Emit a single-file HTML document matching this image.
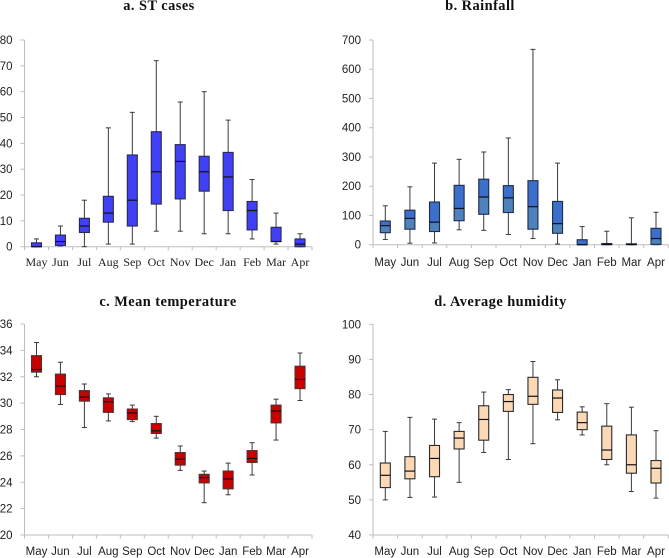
<!DOCTYPE html>
<html>
<head>
<meta charset="utf-8">
<style>
html,body{margin:0;padding:0;background:#fff;width:669px;height:558px;overflow:hidden}
svg{display:block;filter:blur(0.3px)}
</style>
</head>
<body>
<svg id="chart" width="669" height="558" viewBox="0 0 669 558" xmlns="http://www.w3.org/2000/svg"></svg>
<script>
const months = ["May","Jun","Jul","Aug","Sep","Oct","Nov","Dec","Jan","Feb","Mar","Apr"];

const stTicks = [0,10,20,30,40,50,60,70,80];
const stLow = [0,0.3,0,1,1,6,6,5,5,3,1,0];
const stQ1 = [0,0.5,5.5,9.5,8,16.5,18.5,21.5,14,6.5,2,0];
const stMedian = [0,2,8,13,18,29,33,29,27,14,2,1];
const stQ3 = [1.5,4.5,11,19.5,35.5,44.5,39.5,35,36.5,17.5,7.5,3];
const stHigh = [3,8,18,46,52,72,56,60,49,26,13,5];

const rainTicks = [0,100,200,300,400,500,600,700];
const rainLow = [18,5,6,51,49,35,21,2,0,0,0,0];
const rainQ1 = [41,53,45,82,104,110,53,39,0,0,0,1];
const rainMedian = [65,90,77,124,163,160,130,72,0,1,1,21];
const rainQ3 = [81,118,146,203,224,202,219,148,17,4,3,56];
const rainHigh = [133,198,279,292,317,365,668,279,62,46,92,111];

const tempTicks = [20,22,24,26,28,30,32,34,36];
const tempLow = [32,29.9,28.15,28.65,28.6,27.35,24.9,22.45,23.05,24.55,27.2,30.2];
const tempQ1 = [32.35,30.65,30.15,29.3,28.75,27.7,25.3,23.95,23.5,25.5,28.5,31.1];
const tempMedian = [32.55,31.3,30.45,30.1,29.25,27.9,25.75,24.35,24.25,25.8,29.4,31.8];
const tempQ3 = [33.6,32.2,30.95,30.4,29.55,28.45,26.25,24.6,24.85,26.4,29.85,32.8];
const tempHigh = [34.6,33.1,31.45,30.7,29.85,29,26.75,24.85,25.45,27,30.3,33.8];

const humTicks = [40,50,60,70,80,90,100];
const humLow = [50,50.7,50.8,55,63.5,61.5,66,72.8,68.5,60,52.4,50.5];
const humQ1 = [53.5,56,56.6,64.5,67,75.2,77.2,74.9,70,61.5,57.6,54.8];
const humMedian = [57,58.2,61.8,67.6,72.9,78,79.5,79,72,64.2,60,59];
const humQ3 = [60.5,62.3,65.5,69.5,76.8,80,84.9,81.3,75,71,68.5,61.2];
const humHigh = [69.5,73.5,73,72,80.7,81.4,89.4,84.2,76.5,77.4,76.4,69.7];

const NS = "http://www.w3.org/2000/svg";
const svg = document.getElementById("chart");

function node(parent, tag, attrs, text) {
  const el = document.createElementNS(NS, tag);
  for (const k in attrs) el.setAttribute(k, attrs[k]);
  if (text !== undefined) el.textContent = text;
  parent.appendChild(el);
  return el;
}

function drawPanel(cfg) {
  const g = node(svg, "g", {});
  
  

  const title = node(g, "text", {x: cfg.titleX, y: cfg.titleY, "text-anchor": "middle", "font-family": '"Liberation Serif", serif', "font-weight": "bold", "font-size": 14.4, "letter-spacing": 0.45, fill: "#111"}, cfg.title);
  
  

  const yMin = cfg.ticks[0];
  const yMax = cfg.ticks[cfg.ticks.length - 1];
  const yScale = v => cfg.bottom - (v - yMin) / (yMax - yMin) * (cfg.bottom - cfg.top);
  const band = (cfg.right - cfg.left) / months.length;
  const xScale = i => cfg.left + band * (i + 0.5);

  const yAxis = node(g, "line", {x1: cfg.left, x2: cfg.left, y1: cfg.top, y2: cfg.bottom, stroke: "#bdbdbd", "stroke-width": 1});
  
  
  const xAxis = node(g, "line", {x1: cfg.left, x2: cfg.right, y1: cfg.bottom, y2: cfg.bottom, stroke: "#bdbdbd", "stroke-width": 1});
  
  

  cfg.ticks.forEach(t => {
    const y = yScale(t);
    const tick = node(g, "line", {x1: cfg.left - 4, x2: cfg.left, y1: y, y2: y, stroke: "#bdbdbd", "stroke-width": 1});
    
    
    const label = node(g, "text", {x: cfg.left - 12, y: y + 4, "text-anchor": "end", "font-family": '"Liberation Sans", sans-serif', "font-size": 11.5, fill: "#222"}, String(t));
    
    
  });

  for (let i = 0; i <= months.length; i++) {
    const x = cfg.left + band * i;
    const tick = node(g, "line", {x1: x, x2: x, y1: cfg.bottom, y2: cfg.bottom + 3.5, stroke: "#bdbdbd", "stroke-width": 1});
    
    
  }

  months.forEach((m, i) => {
    const label = node(g, "text", {x: xScale(i), y: cfg.labelY, "text-anchor": "middle", "font-family": cfg.labelFont, "font-size": cfg.labelSize, fill: "#222"}, m);
    
    

    const cx = xScale(i);
    const halfBox = 5;
    const halfCap = 2.5;
    const box = node(g, "g", {});
    
    

    const yLow = yScale(cfg.low[i]);
    const yQ1 = yScale(cfg.q1[i]);
    const yMed = yScale(cfg.median[i]);
    const yQ3 = yScale(cfg.q3[i]);
    const yHigh = yScale(cfg.high[i]);
    const stemStyle = {stroke: "#3a3a3a", "stroke-width": 1};

    node(box, "line", Object.assign({x1: cx, x2: cx, y1: yHigh, y2: yQ3}, stemStyle));
    node(box, "line", Object.assign({x1: cx, x2: cx, y1: yQ1, y2: yLow}, stemStyle));
    node(box, "line", Object.assign({x1: cx - halfCap, x2: cx + halfCap, y1: yHigh, y2: yHigh}, stemStyle));
    node(box, "line", Object.assign({x1: cx - halfCap, x2: cx + halfCap, y1: yLow, y2: yLow}, stemStyle));

    node(box, "rect", {x: cx - halfBox, y: yQ3, width: halfBox * 2, height: Math.max(yMed - yQ3, 0), fill: cfg.upperFill});
    node(box, "rect", {x: cx - halfBox, y: yMed, width: halfBox * 2, height: Math.max(yQ1 - yMed, 0), fill: cfg.lowerFill});
    node(box, "rect", {x: cx - halfBox, y: yQ3, width: halfBox * 2, height: Math.max(yQ1 - yQ3, 0), fill: "none", stroke: cfg.edge, "stroke-width": 1.1});
    node(box, "line", {x1: cx - halfBox, x2: cx + halfBox, y1: yMed, y2: yMed, stroke: "#101018", "stroke-width": 1.2});
  });
}

drawPanel({
  name: "panel-st-cases", title: "a. ST cases", titleX: 159, titleY: 10,
  left: 24.5, right: 312, top: 40, bottom: 246.7, labelY: 266,
  labelFont: '"Liberation Serif", serif', labelSize: 12,
  ticks: stTicks, low: stLow, q1: stQ1, median: stMedian, q3: stQ3, high: stHigh,
  upperFill: "#4040f4", lowerFill: "#4040f4", edge: "#2a2a55"
});
drawPanel({
  name: "panel-rainfall", title: "b. Rainfall", titleX: 480, titleY: 10,
  left: 373, right: 668.3, top: 40, bottom: 244.7, labelY: 266,
  labelFont: '"Liberation Sans", sans-serif', labelSize: 11.5,
  ticks: rainTicks, low: rainLow, q1: rainQ1, median: rainMedian, q3: rainQ3, high: rainHigh,
  upperFill: "#3c6ecb", lowerFill: "#4f81bd", edge: "#1f2d4a"
});
drawPanel({
  name: "panel-mean-temperature", title: "c. Mean temperature", titleX: 168, titleY: 306,
  left: 24.5, right: 312, top: 324, bottom: 535, labelY: 555,
  labelFont: '"Liberation Sans", sans-serif', labelSize: 11.5,
  ticks: tempTicks, low: tempLow, q1: tempQ1, median: tempMedian, q3: tempQ3, high: tempHigh,
  upperFill: "#c80000", lowerFill: "#c80000", edge: "#553030"
});
drawPanel({
  name: "panel-average-humidity", title: "d. Average humidity", titleX: 500.5, titleY: 306,
  left: 373, right: 668.3, top: 324.3, bottom: 535, labelY: 555,
  labelFont: '"Liberation Sans", sans-serif', labelSize: 11.5,
  ticks: humTicks, low: humLow, q1: humQ1, median: humMedian, q3: humQ3, high: humHigh,
  upperFill: "#fcd9b6", lowerFill: "#fcd9b6", edge: "#2a2a2a"
});
</script>
</body>
</html>
